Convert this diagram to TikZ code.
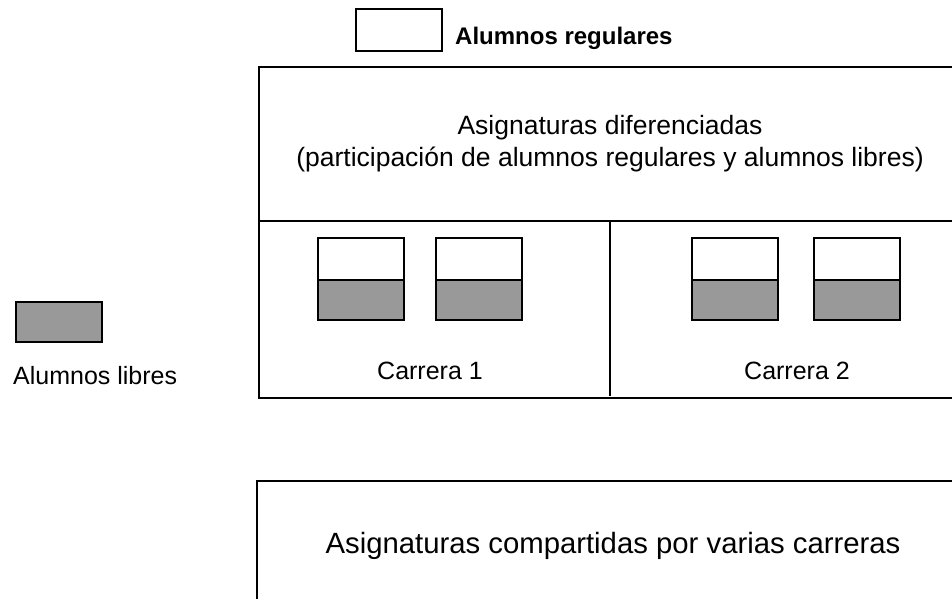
\documentclass[tikz,border=0pt]{standalone}
\usepackage{fontspec}
\setmainfont{Liberation Sans}
\usetikzlibrary{positioning}
\definecolor{librefill}{HTML}{999999}
\tikzset{frame line/.style={line width=2pt},
  regular box/.style={draw,line width=2pt,fill=white,minimum width=86pt,minimum height=42pt,inner sep=0pt,outer sep=0pt},
  libre box/.style={draw,line width=2pt,fill=librefill,minimum width=86pt,minimum height=40pt,inner sep=0pt,outer sep=0pt},
  label text/.style={font=\fontsize{25}{30}\selectfont,inner sep=0pt},
  title text/.style={font=\fontsize{26.5}{31}\selectfont,inner sep=0pt}}

\begin{document}
\begin{tikzpicture}[x=1pt,y=-1pt]
            \useasboundingbox (0,0) rectangle (952,599);
            \clip (0,0) rectangle (952,599);

            % leyenda
            \node[regular box] (reg) at (398.5,30) {};
            \node[anchor=base west,inner sep=0pt,font=\bfseries\fontsize{24}{28}\selectfont] (regText) at (455,45) {Alumnos regulares};
            \node[libre box] (lib) at (58.5,322) {};
            \node[label text,anchor=base west] (libText) at (13,384) {Alumnos libres};

            % asignaturas diferenciadas
            \coordinate (difNW) at (259,67);
            \coordinate (difW) at (259,221);
            \coordinate (difSW) at (259,398);
            \coordinate (split) at (610,221);
            \coordinate (splitS) at (610,396);
            \draw[frame line] (965,67) -- (difNW) -- (difSW) -- (965,398);
            \draw[frame line] (difW) -- (965,221);
            \draw[frame line] (split) -- (splitS);
            \node[title text,anchor=base] (difTitle) at (610,135) {Asignaturas diferenciadas};
            \node[title text,anchor=base] (difSub) at (610,166) {(participación de alumnos regulares y alumnos libres)};

            % carrera 1
            \node[regular box] (c1a) at (361,259) {};
            \node[libre box] (c1aL) [below=0pt of c1a] {};
            \node[regular box] (c1b) at (479,259) {};
            \node[libre box] (c1bL) [below=0pt of c1b] {};
            \node[label text,anchor=base] (car1) at (430,379) {Carrera 1};

            % carrera 2
            \node[regular box] (c2a) at (735,259) {};
            \node[libre box] (c2aL) [below=0pt of c2a] {};
            \node[regular box] (c2b) at (856.5,259) {};
            \node[libre box] (c2bL) [below=0pt of c2b] {};
            \node[label text,anchor=base] (car2) at (797,379) {Carrera 2};

            % asignaturas compartidas
            \coordinate (comNW) at (257,481);
            \draw[frame line] (965,481) -- (comNW) -- (257,610);
            \node[anchor=base,inner sep=0pt,font=\fontsize{29.3}{34}\selectfont] (comTitle) at (613,553) {Asignaturas compartidas por varias carreras};
        \end{tikzpicture}
\end{document}
